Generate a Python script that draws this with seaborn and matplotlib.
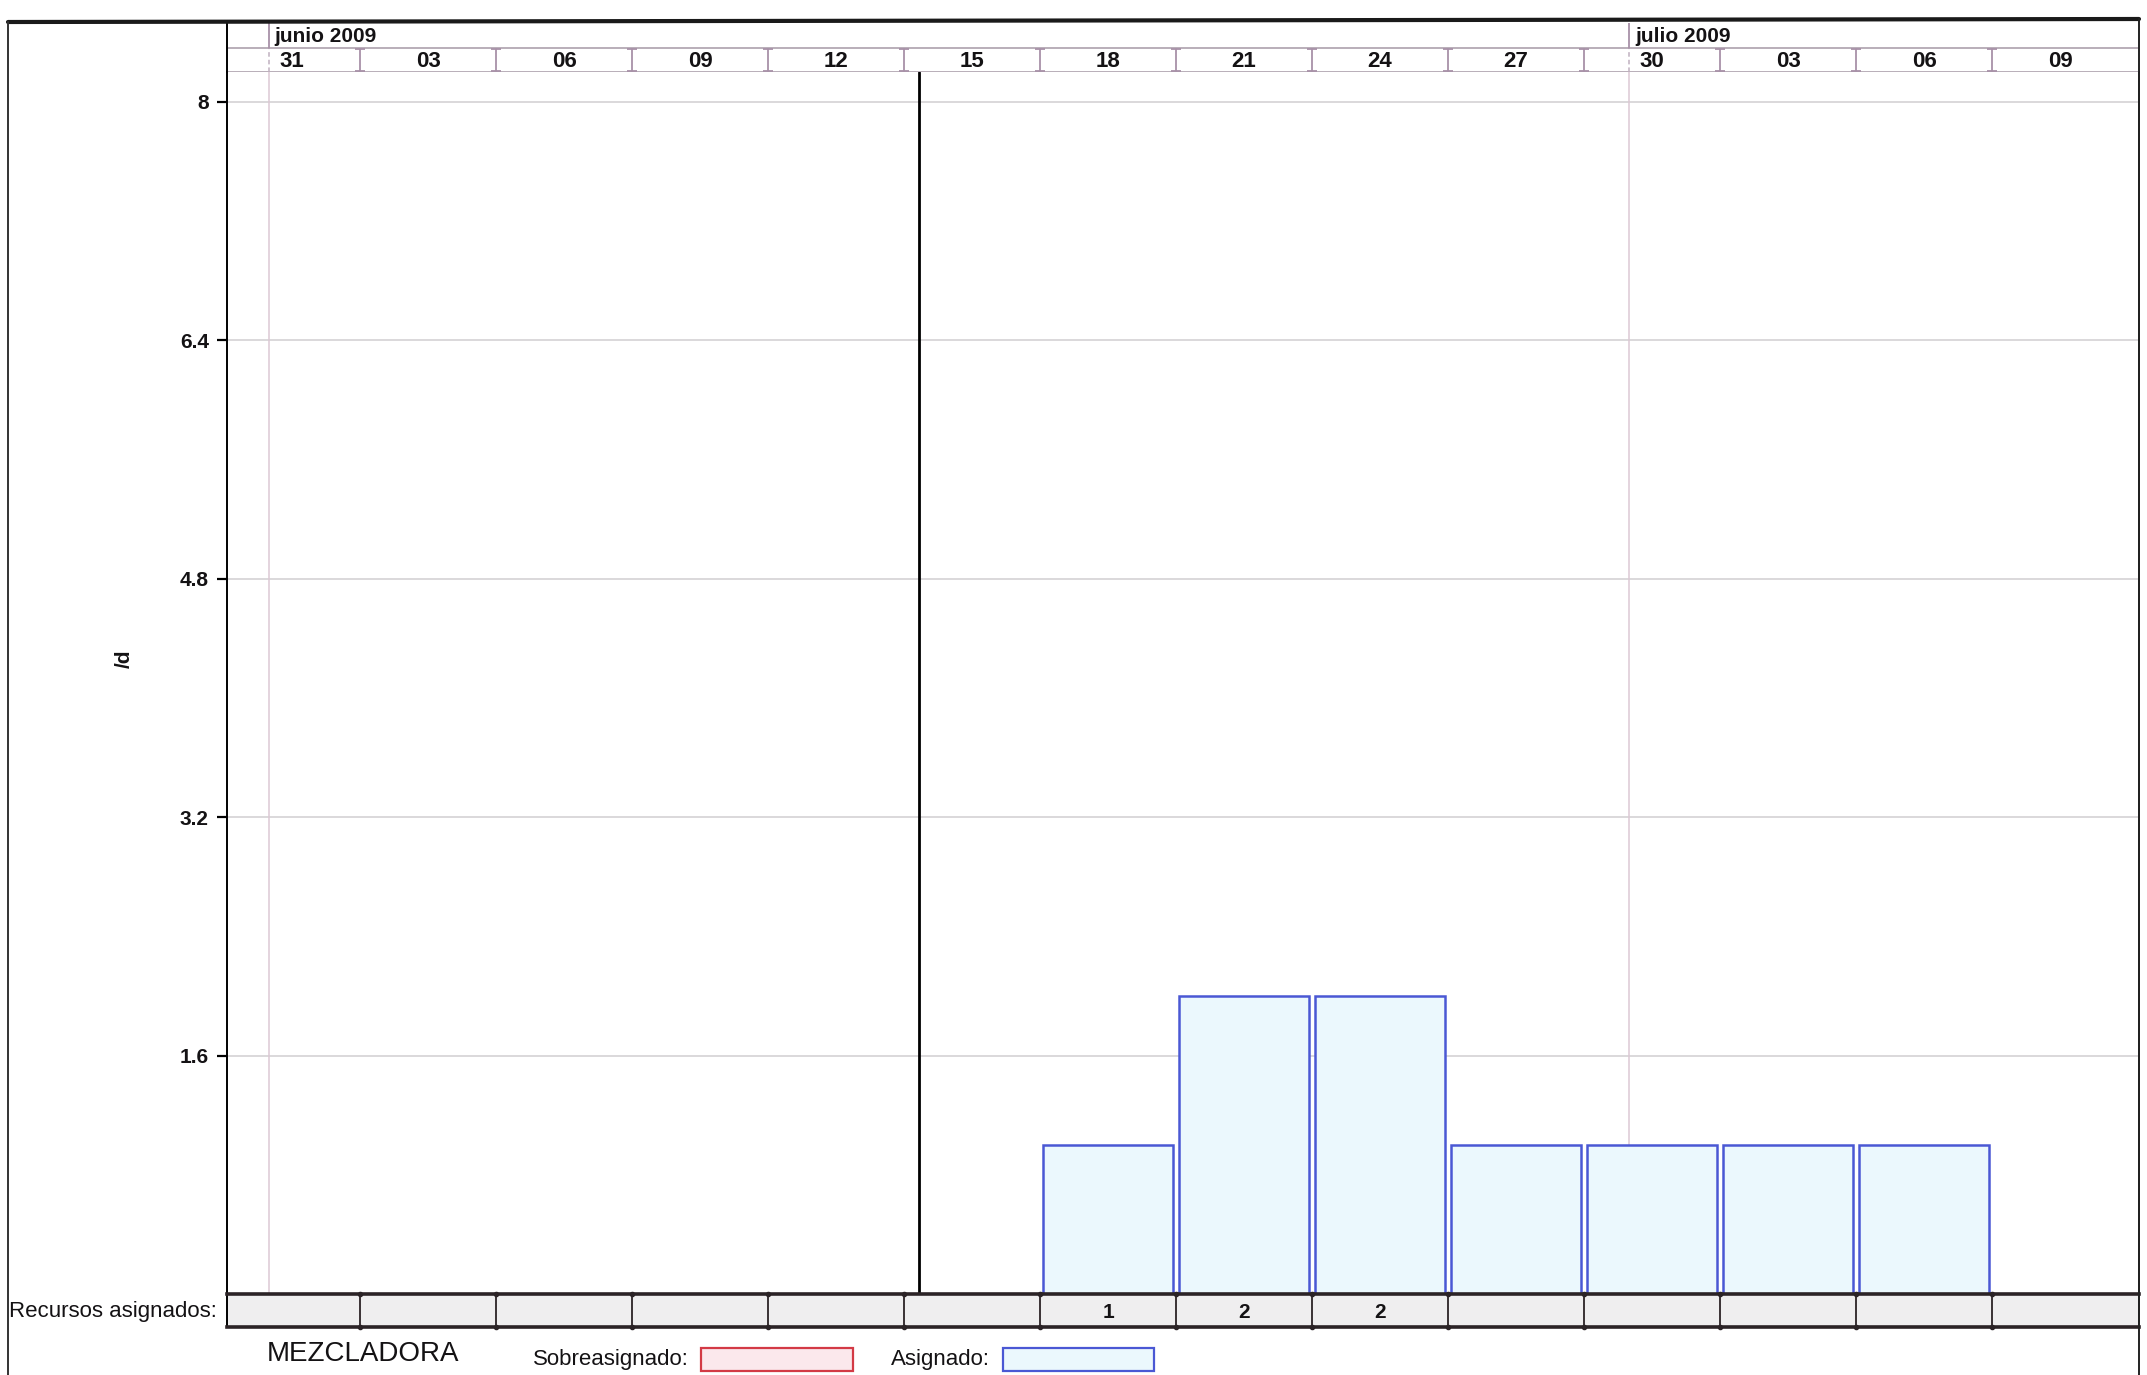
import matplotlib
matplotlib.use("Agg")
import matplotlib.pyplot as plt
from matplotlib.lines import Line2D
from matplotlib.patches import Rectangle
import seaborn as sns
import pandas as pd

# ---- data -------------------------------------------------------------
period_start = ["2009-05-31", "2009-06-03", "2009-06-06", "2009-06-09",
                "2009-06-12", "2009-06-15", "2009-06-18", "2009-06-21",
                "2009-06-24", "2009-06-27", "2009-06-30", "2009-07-03",
                "2009-07-06", "2009-07-09"]
day_labels = ["31", "03", "06", "09", "12", "15", "18", "21", "24", "27",
              "30", "03", "06", "09"]
assigned = [0, 0, 0, 0, 0, 0, 1, 2, 2, 1, 1, 1, 1, 0]
resources_row = ["", "", "", "", "", "", "1", "2", "2", "", "", "", "", ""]
month_labels = ["junio 2009", "julio 2009"]
month_starts = ["2009-06-01", "2009-07-01"]
status_date = "2009-06-15 08:00"
y_ticks = [1.6, 3.2, 4.8, 6.4, 8]
y_tick_labels = ["1.6", "3.2", "4.8", "6.4", "8"]
resource_name = "MEZCLADORA"

# ---- style ------------------------------------------------------------
sns.set_theme(style="white")
plt.rcParams["font.family"] = ["Liberation Sans", "DejaVu Sans"]

W, H = 2147, 1375
fig = plt.figure(figsize=(W / 100, H / 100), dpi=100)
fig.patch.set_facecolor("white")


def fx(px):
    return px / W


def fy(py):
    return 1 - py / H


def axes_rect(x0, y0, x1, y1):
    return [fx(x0), fy(y1), fx(x1) - fx(x0), fy(y0) - fy(y1)]


t0 = pd.Timestamp(period_start[0])


def pos(date):
    # categorical position of a date on the 3-day period axis
    return -0.5 + (pd.Timestamp(date) - t0) / pd.Timedelta(days=3)


XLIM = (-0.478, 13.58)
n = len(period_start)
bounds = [k + 0.5 for k in range(n - 1)]

BAR_FILL = "#ebf8fd"
BAR_EDGE = "#4a58d4"
GRID = "#d4d2d4"
MAUVE = "#a891a8"
INK = "#141214"

# ---- main chart -------------------------------------------------------
ax = fig.add_axes(axes_rect(227, 72, 2139, 1294))
df = pd.DataFrame({"period": period_start, "value": assigned})
sns.barplot(data=df[df["value"] > 0], x="period", y="value",
            order=period_start, color=BAR_FILL, saturation=1,
            edgecolor=BAR_EDGE, linewidth=1.8, width=0.96,
            errorbar=None, ax=ax, zorder=2)
ax.set_xlim(*XLIM)
ax.set_ylim(0, 8.2)
ax.set_yticks(y_ticks)
ax.set_yticklabels(y_tick_labels, fontsize=15, fontweight="bold", color=INK)
ax.set_xticks([])
ax.set_xlabel("")
ax.set_ylabel("/d", rotation=90, fontsize=15, fontweight="bold", color=INK)
ax.yaxis.set_label_coords(-0.049, 0.52)
ax.tick_params(axis="y", length=7, width=1.6, color="black", pad=6,
               left=True)
ax.set_axisbelow(True)
ax.yaxis.grid(True, color=GRID, lw=1.2)
for m in month_starts:
    ax.axvline(pos(m), color="#dcc9d4", lw=1.1, zorder=1)
ax.axvline(pos(status_date), color="black", lw=2.0, zorder=3)
for side in ("top", "bottom"):
    ax.spines[side].set_visible(False)
ax.spines["left"].set_color("black")
ax.spines["left"].set_linewidth(1.4)
ax.spines["right"].set_color("black")
ax.spines["right"].set_linewidth(1.4)

# ---- timescale header -------------------------------------------------
hax = fig.add_axes(axes_rect(227, 23, 2139, 72))
hax.set_xlim(*XLIM)
hax.set_ylim(0, 2)
hax.axis("off")
hax.axhline(1, color="#b3a8b3", lw=1.3)
hax.axhline(0, color="#b3a8b3", lw=1.3)
for b in bounds:
    hax.plot([b, b], [0.05, 0.95], color=MAUVE, lw=1.3,
             marker="_", markersize=7, markeredgewidth=1.3)
for k, lab in enumerate(day_labels):
    hax.text(k, 0.42, lab, ha="center", va="center", fontsize=16,
             fontweight="bold", color=INK)
for m, lab in zip(month_starts, month_labels):
    p = pos(m)
    hax.plot([p, p], [0, 1], color="#c0b0c0", lw=1.1, ls=(0, (3, 2)))
    hax.plot([p, p], [1, 2], color=MAUVE, lw=1.3)
    hax.text(p + 0.04, 1.45, lab, ha="left", va="center", fontsize=15,
             fontweight="bold", color=INK)
hax.plot([XLIM[0], XLIM[0]], [0, 2], color="black", lw=1.4,
         clip_on=False)

# ---- assigned resources row -------------------------------------------
tax = fig.add_axes(axes_rect(227, 1294, 2139, 1327))
tax.set_xlim(*XLIM)
tax.set_ylim(0, 1)
tax.set_facecolor("#efeeef")
tax.set_xticks([])
tax.set_yticks([])
for side in ("top", "bottom"):
    tax.spines[side].set_color("#2b2326")
    tax.spines[side].set_linewidth(2.6)
for side in ("left", "right"):
    tax.spines[side].set_color("black")
    tax.spines[side].set_linewidth(1.4)
for b in bounds:
    tax.plot([b, b], [0, 1], color="#2b2326", lw=1.3, marker="o",
             markersize=3, clip_on=False)
for k, lab in enumerate(resources_row):
    if lab:
        tax.text(k, 0.45, lab, ha="center", va="center", fontsize=15,
                 fontweight="bold", color=INK)

# ---- frame and captions -----------------------------------------------
fig.add_artist(Line2D([fx(8), fx(2139)], [fy(22), fy(19)], color="#1a1a1a",
                      lw=3.0))
fig.add_artist(Line2D([fx(8), fx(8)], [fy(22), fy(1375)], color="#333333",
                      lw=1.4))
fig.add_artist(Line2D([fx(2139), fx(2139)], [fy(19), fy(1375)],
                      color="#222222", lw=1.4))

fig.text(fx(217), fy(1311), "Recursos asignados:", ha="right", va="center",
         fontsize=16, color=INK)
fig.text(fx(267), fy(1354), resource_name, ha="left", va="center",
         fontsize=20, color=INK)
fig.text(fx(533), fy(1359), "Sobreasignado:", ha="left", va="center",
         fontsize=16, color=INK)
fig.text(fx(891), fy(1359), "Asignado:", ha="left", va="center",
         fontsize=16, color=INK)
fig.add_artist(Rectangle((fx(701), fy(1371)), fx(853) - fx(701),
                         fy(1348) - fy(1371), transform=fig.transFigure,
                         facecolor="#fbe8ec", edgecolor="#d33a45", lw=1.6))
fig.add_artist(Rectangle((fx(1003), fy(1371)), fx(1154) - fx(1003),
                         fy(1348) - fy(1371), transform=fig.transFigure,
                         facecolor=BAR_FILL, edgecolor=BAR_EDGE, lw=1.6))

fig.savefig("out.png", dpi=100, facecolor="white")
